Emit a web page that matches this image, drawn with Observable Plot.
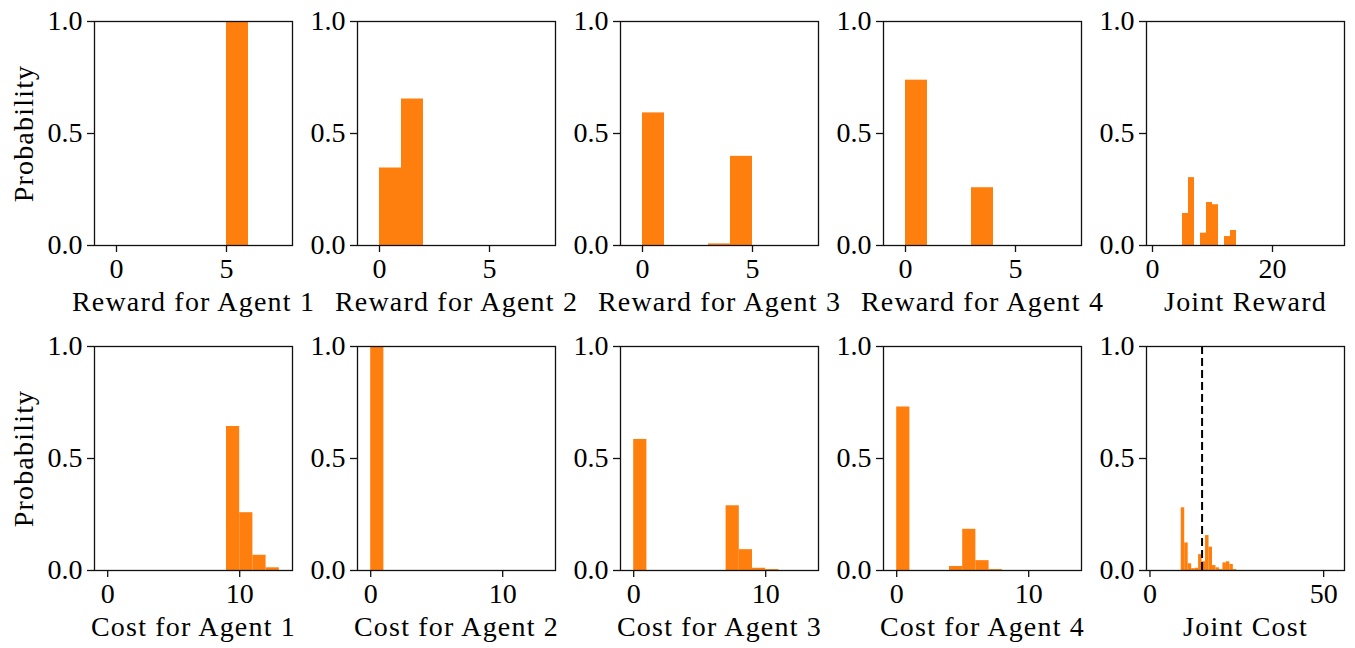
<!DOCTYPE html>
<html>
<head>
<meta charset="utf-8">
<script src="https://cdn.jsdelivr.net/npm/d3@7"></script>
<script src="https://cdn.jsdelivr.net/npm/@observablehq/plot@0.6"></script>
<style>
  body { margin: 0; background: #ffffff; }
  #wrap { position: relative; width: 1355px; height: 648px; overflow: hidden; background: #fff; }
</style>
</head>
<body>
<div id="wrap"></div>
<script>
// ---- Data (bin left edges, bin width 1, and probabilities) ----
const reward1Bins = [5];
const reward1Prob = [1.0];
const reward2Bins = [0, 1];
const reward2Prob = [0.346, 0.654];
const reward3Bins = [0, 3, 4];
const reward3Prob = [0.592, 0.007, 0.398];
const reward4Bins = [0, 3];
const reward4Prob = [0.738, 0.258];
const jointRewardBins = [5, 6, 8, 9, 10, 12, 13];
const jointRewardProb = [0.143, 0.303, 0.055, 0.192, 0.182, 0.040, 0.067];

const cost1Bins = [9, 10, 11, 12];
const cost1Prob = [0.643, 0.258, 0.068, 0.012];
const cost2Bins = [0];
const cost2Prob = [1.0];
const cost3Bins = [0, 7, 8, 9, 10];
const cost3Prob = [0.585, 0.289, 0.093, 0.010, 0.004];
const cost4Bins = [0, 4, 5, 6, 7];
const cost4Prob = [0.730, 0.018, 0.184, 0.044, 0.004];
const jointCostBins = [9, 10, 11, 12, 13, 14, 15, 16, 17, 18, 19, 20, 21, 22, 23, 24];
const jointCostProb = [0.280, 0.123, 0.030, 0.008, 0.010, 0.071, 0.039, 0.156, 0.104, 0.022, 0.012, 0.004, 0.034, 0.039, 0.027, 0.004];
const jointCostThreshold = [15];

const binWidth = 1;
const xLabels = [
  "Reward for Agent 1", "Reward for Agent 2", "Reward for Agent 3", "Reward for Agent 4", "Joint Reward",
  "Cost for Agent 1", "Cost for Agent 2", "Cost for Agent 3", "Cost for Agent 4", "Joint Cost"
];
const xDomains = [[-1, 8], [-1, 8], [-1, 8], [-1, 8], [-1, 32], [-1, 14], [-1, 14], [-1, 14], [-1, 14], [-1, 56]];
const xTicks = [[0, 5], [0, 5], [0, 5], [0, 5], [0, 20], [0, 10], [0, 10], [0, 10], [0, 10], [0, 50]];
const yTicks = [0, 0.5, 1.0];
const yLabel = "Probability";

const binsList = [reward1Bins, reward2Bins, reward3Bins, reward4Bins, jointRewardBins,
                  cost1Bins, cost2Bins, cost3Bins, cost4Bins, jointCostBins];
const probList = [reward1Prob, reward2Prob, reward3Prob, reward4Prob, jointRewardProb,
                  cost1Prob, cost2Prob, cost3Prob, cost4Prob, jointCostProb];

// ---- Layout ----
const frameLefts = [94, 357, 620, 883, 1146];
const frameTops = [20.7, 345.7];
const frameW = 198, frameH = 224;
const mL = 90, mR = 12, mT = 12, mB = 92;
const FONT = "'Liberation Serif', 'Times New Roman', serif";
const ORANGE = "#ff7f0e";
const INK = "#000";

const wrap = document.getElementById("wrap");

for (let i = 0; i < 10; i++) {
  const row = Math.floor(i / 5), col = i % 5;
  const data = binsList[i].map((b, k) => ({x1: b, x2: b + binWidth, p: probList[i][k]}));
  const marks = [
    Plot.rect(data, {x1: "x1", x2: "x2", y1: 0, y2: "p", fill: ORANGE, insetLeft: 0, insetRight: 0}),
  ];
  if (i === 9) {
    marks.push(Plot.ruleX(jointCostThreshold, {stroke: INK, strokeWidth: 2, strokeDasharray: "8,4"}));
  }
  marks.push(
    Plot.frame({stroke: "#111", strokeWidth: 1.3}),
    Plot.axisX({ticks: xTicks[i], tickSize: 7, tickPadding: 6, tickFormat: d => String(d), label: null, strokeWidth: 1.3, stroke: "#111", fill: INK}),
    Plot.axisY({ticks: yTicks, tickSize: 7, tickPadding: 5, tickFormat: d3.format(".1f"), label: null, strokeWidth: 1.3, stroke: "#111", fill: INK}),
    Plot.text([xLabels[i]], {text: d => d, frameAnchor: "bottom", dy: 57, lineAnchor: "middle", textAnchor: "middle", fill: INK, className: "xlab"})
  );
  if (col === 0) {
    marks.push(Plot.text([yLabel], {text: d => d, frameAnchor: "left", dx: -70, rotate: -90, lineAnchor: "middle", textAnchor: "middle", fill: INK, className: "xlab"}));
  }
  const svg = Plot.plot({
    width: frameW + mL + mR,
    height: frameH + mT + mB,
    marginLeft: mL, marginRight: mR, marginTop: mT, marginBottom: mB,
    x: {domain: xDomains[i]},
    y: {domain: [0, 1]},
    style: {fontFamily: FONT, fontSize: "28px", background: "transparent", overflow: "visible", color: INK},
    marks
  });
  svg.querySelectorAll(".xlab text").forEach(t => t.setAttribute("letter-spacing", "1.2"));
  svg.style.position = "absolute";
  svg.style.left = (frameLefts[col] - mL) + "px";
  svg.style.top = (frameTops[row] - mT) + "px";
  svg.style.maxWidth = "none";
  wrap.appendChild(svg);
}
</script>
</body>
</html>
